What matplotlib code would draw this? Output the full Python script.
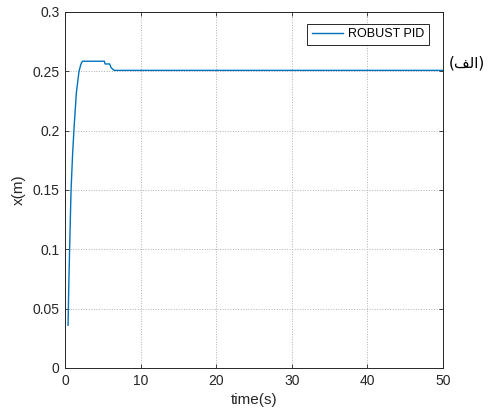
import numpy as np
import matplotlib
matplotlib.use('Agg')
import matplotlib.pyplot as plt

# -------------------- Data --------------------
# position response
time_s = [0.4, 0.5, 0.6, 0.7, 0.8, 1.0, 1.2, 1.5, 1.85, 2.1, 2.3,
          5.2, 5.3, 5.9, 6.1, 6.5, 50.0]
x_m = [0.036, 0.07, 0.098, 0.125, 0.15, 0.18, 0.203, 0.232, 0.25, 0.256, 0.2585,
       0.2585, 0.2562, 0.2562, 0.253, 0.2508, 0.2508]
x_ticks = [0, 10, 20, 30, 40, 50]
y_ticks = [0, 0.05, 0.1, 0.15, 0.2, 0.25, 0.3]
y_tick_labels = ['0', '0.05', '0.1', '0.15', '0.2', '0.25', '0.3']
legend_label = 'ROBUST PID'
# "(الف)" written in presentation forms, visual order (matplotlib does no shaping)
side_label = '(\uFED2\uFEDF\uFE8D)'
# ----------------------------------------------

plt.rcParams['font.family'] = ['Liberation Sans', 'DejaVu Sans']

fig = plt.figure(figsize=(4.9, 4.15), dpi=100)
ax = fig.add_axes([0.1327, 0.1133, 0.7714, 0.8578])

ax.plot(time_s, x_m, color='#0072BD', linewidth=1.0, label=legend_label)

ax.set_xlim(0, 50)
ax.set_ylim(0, 0.3)
ax.set_xticks(x_ticks)
ax.set_yticks(y_ticks)
ax.set_yticklabels(y_tick_labels)
ax.tick_params(direction='in', length=3, width=0.6, labelsize=10, pad=4,
               top=True, right=True, colors='#262626')
ax.grid(True, linestyle=':', color='#b0b0b0', linewidth=0.7)
for sp in ax.spines.values():
    sp.set_linewidth(0.7)
    sp.set_color('#262626')

ax.set_xlabel('time(s)', fontsize=11, color='#262626', labelpad=4)
ax.set_ylabel('x(m)', fontsize=11, color='#262626', labelpad=5)

leg = ax.legend(loc='upper right', bbox_to_anchor=(0.963, 0.966), fontsize=9,
                fancybox=False, framealpha=1, edgecolor='#262626',
                handlelength=2.5, borderpad=0.35, handletextpad=0.45,
                borderaxespad=0)
leg.get_frame().set_linewidth(0.7)

fig.text(0.953, 0.848, side_label, fontsize=11, family=['DejaVu Sans'],
         ha='center', va='center', color='black')

fig.savefig('out.png', dpi=100)
